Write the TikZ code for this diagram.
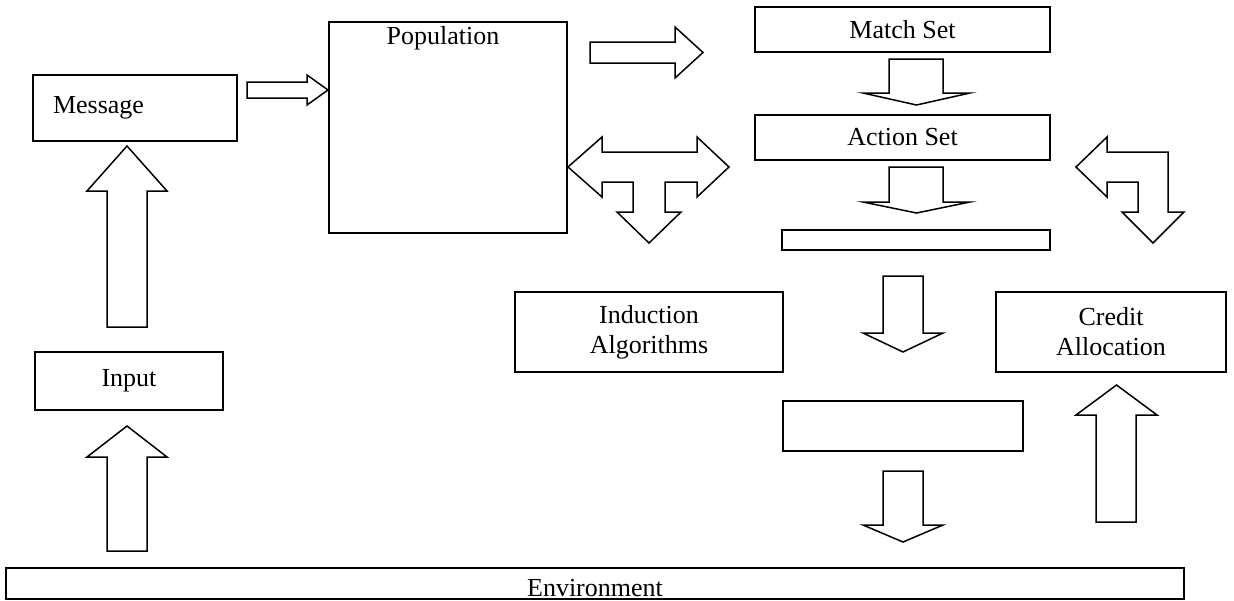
\documentclass[tikz,border=0pt]{standalone}
\usepackage{fontspec}
\setmainfont{Liberation Serif}
\usetikzlibrary{positioning}

\begin{document}
\begin{tikzpicture}[x=1pt,y=-1pt,node distance=10pt,every node/.style={draw, line width=1.5pt, inner sep=0pt, outer sep=0pt, font=\fontsize{26}{30}\selectfont, align=center}]
\tikzset{barrow/.style={draw,line width=1.5pt,line join=miter}}
\useasboundingbox (0,0) rectangle (1234,600);

  \node(MSG) [minimum width=204pt,minimum height=66pt,text width=164pt,inner xsep=20pt,align=left] at (135,108) {Message};
  \node(POP) [minimum width=238pt,minimum height=211pt] at (448,127.5) {};
  \node(POPT) [draw=none] at (443,38) {Population};
  \node(MS) [minimum width=295pt,minimum height=45pt] at (902.5,29.5) {Match Set};
  \node(AS) [below=63pt of MS,minimum width=295pt,minimum height=45pt] {Action Set};
  \node(BAR) [below=70pt of AS,xshift=13.5pt,minimum width=268pt,minimum height=20pt] {};
  \node(IND) [minimum width=268pt,minimum height=80pt] at (649,332) {Induction\\Algorithms};
  \node(CRD) [minimum width=230pt,minimum height=80pt] at (1111,332) {Credit\\Allocation};
  \node(OUT) [minimum width=240pt,minimum height=50pt] at (903,426) {};
  \node(INP) [minimum width=188pt,minimum height=58pt] at (129,381) {Input};
  \node(ENV) [minimum width=1178pt,minimum height=31pt,text height=25pt,text depth=0pt] at (595,583.5) {Environment};

  % straight block arrows
  \draw[barrow] (247,82) -- (307,82) -- (307,75) -- (328,90) -- (307,105) -- (307,98) -- (247,98) -- cycle;
  \draw[barrow] (590,42) -- (675,42) -- (675,27) -- (703,52.5) -- (675,78) -- (675,63) -- (590,63) -- cycle;
  \draw[barrow] (889,59) -- (943,59) -- (943,93) -- (970,93) -- (916.5,105) -- (863,93) -- (889,93) -- cycle;
  \draw[barrow] (889,167) -- (943,167) -- (943,202) -- (970,202) -- (916.5,213) -- (863,202) -- (889,202) -- cycle;
  \draw[barrow] (883,276) -- (923,276) -- (923,333) -- (943,333) -- (903,352) -- (863,333) -- (883,333) -- cycle;
  \draw[barrow] (883,471) -- (923,471) -- (923,525) -- (943,525) -- (903,542) -- (863,525) -- (883,525) -- cycle;
  \draw[barrow] (1096,522) -- (1136,522) -- (1136,415) -- (1157,415) -- (1116.5,385) -- (1076,415) -- (1096,415) -- cycle;
  \draw[barrow] (107,327) -- (147,327) -- (147,191) -- (167,191) -- (127,146) -- (87,191) -- (107,191) -- cycle;
  \draw[barrow] (107,551) -- (147,551) -- (147,457) -- (167,457) -- (127,426) -- (87,457) -- (107,457) -- cycle;

  % double arrow with branch down
  \draw[barrow] (568,167) -- (602,137) -- (602,152) -- (697,152) -- (697,137) -- (729,167) -- (697,197) -- (697,182)
    -- (665,182) -- (665,212) -- (681,212) -- (649,243) -- (617,212) -- (633,212) -- (633,182) -- (602,182) -- (602,197) -- cycle;
  % bent arrow left/down
  \draw[barrow] (1076,167) -- (1107,137) -- (1107,152) -- (1168,152) -- (1168,212) -- (1184,212) -- (1153,243)
    -- (1122,212) -- (1138,212) -- (1138,182) -- (1107,182) -- (1107,197) -- cycle;
\end{tikzpicture}
\end{document}
